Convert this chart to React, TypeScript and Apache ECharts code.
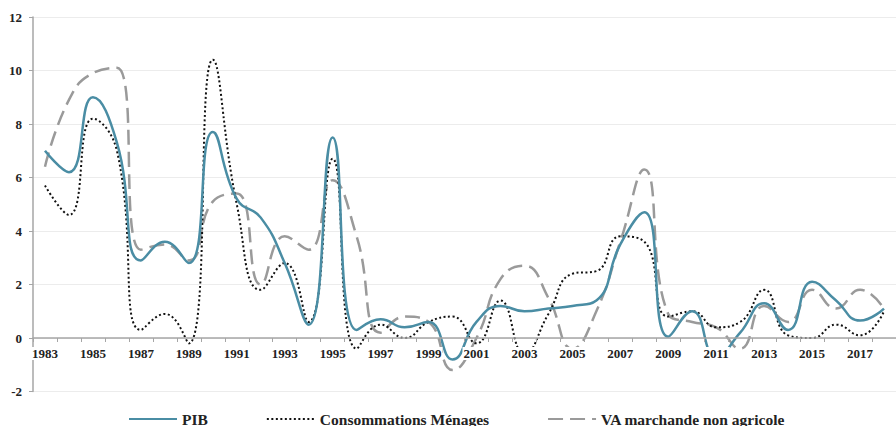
import React, { useEffect, useRef } from "react";
import * as echarts from "echarts";

const years = ["1983","1984","1985","1986","1987","1988","1989","1990","1991","1992","1993","1994","1995","1996","1997","1998","1999","2000","2001","2002","2003","2004","2005","2006","2007","2008","2009","2010","2011","2012","2013","2014","2015","2016","2017","2018"];

const pib = [7.0, 6.2, 9.0, 7.3, 2.9, 3.6, 2.8, 7.7, 5.2, 4.5, 2.8, 0.5, 7.5, 0.3, 0.7, 0.4, 0.6, -0.8, 0.6, 1.2, 1.0, 1.1, 1.2, 1.4, 3.5, 4.7, 0.05, 1.0, -0.7, 0.2, 1.3, 0.3, 2.1, 1.4, 0.65, 1.1];
const conso = [5.7, 4.6, 8.2, 7.0, 0.3, 0.9, -0.2, 10.4, 5.0, 1.8, 2.8, 0.6, 6.7, -0.4, 0.5, 0.0, 0.6, 0.8, -0.2, 1.4, -0.6, 0.9, 2.4, 2.5, 3.8, 3.6, 0.8, 1.0, 0.4, 0.6, 1.8, 0.1, 0.0, 0.5, 0.1, 1.0];
const va = [6.4, 8.9, 9.9, 10.1, 3.3, 3.5, 2.9, 5.1, 5.4, 2.0, 3.8, 3.3, 5.9, 3.8, 0.2, 0.8, 0.6, -1.2, 0.0, 2.2, 2.7, 1.5, -0.4, 1.0, 3.6, 6.3, 0.9, 0.6, 0.4, -0.4, 1.2, 0.6, 1.8, 1.1, 1.8, 1.1];

const names = ["PIB", "Consommations Ménages", "VA marchande non agricole"];

const FONT = "Liberation Serif";
const Y_MIN = -2;
const Y_MAX = 12;
const GRID_H = 374.5;

export default function App() {
  const ref = useRef<HTMLDivElement>(null);
  useEffect(() => {
    if (!ref.current) return;
    const chart = echarts.init(ref.current, null, { renderer: "svg" });
    // move the category axis up to the zero line (labels follow it)
    const zeroOffset = -((0 - Y_MIN) / (Y_MAX - Y_MIN)) * GRID_H;
    chart.setOption({
      animation: false,
      backgroundColor: "#ffffff",
      grid: { left: 33, top: 17, width: 868, height: GRID_H, containLabel: false },
      legend: {
        left: 128,
        top: 411,
        padding: 0,
        itemWidth: 48,
        itemHeight: 14,
        itemGap: 58,
        itemStyle: { opacity: 0 },
        textStyle: { fontFamily: FONT, fontWeight: "bold", fontSize: 15.5, color: "#222" },
        data: names,
      },
      xAxis: {
        type: "category",
        data: years,
        boundaryGap: true,
        position: "bottom",
        offset: zeroOffset,
        z: 5,
        axisLine: { onZero: false, lineStyle: { color: "#a6a6a6", width: 1.5 } },
        axisTick: { show: true, length: 4, interval: 0, lineStyle: { color: "#a6a6a6" } },
        axisLabel: {
          interval: 1,
          margin: 9,
          fontFamily: FONT,
          fontWeight: "bold",
          fontSize: 13,
          color: "#222",
          backgroundColor: "#ffffff",
          padding: [0, 1],
        },
        splitLine: { show: false },
      },
      yAxis: {
        type: "value",
        min: Y_MIN,
        max: Y_MAX,
        interval: 2,
        axisLine: { show: true, lineStyle: { color: "#a6a6a6", width: 1.5 } },
        axisTick: { show: true, length: 4, lineStyle: { color: "#a6a6a6" } },
        axisLabel: { margin: 11, fontFamily: FONT, fontWeight: "bold", fontSize: 13, color: "#222" },
        splitLine: { show: true, lineStyle: { color: "#ececec", width: 1 } },
      },
      series: [
        {
          name: names[0],
          type: "line",
          data: pib,
          smooth: 0.5,
          symbol: "none",
          z: 4,
          lineStyle: { color: "#4a8da4", width: 2.5, type: "solid" },
          itemStyle: { color: "#4a8da4" },
        },
        {
          name: names[1],
          type: "line",
          data: conso,
          smooth: 0.5,
          symbol: "none",
          z: 3,
          lineStyle: { color: "#111111", width: 2, type: [2, 2.5] },
          itemStyle: { color: "#111111" },
        },
        {
          name: names[2],
          type: "line",
          data: va,
          smooth: 0.5,
          symbol: "none",
          z: 2,
          lineStyle: { color: "#9a9a9a", width: 2.5, type: [15, 7] },
          itemStyle: { color: "#9a9a9a" },
        },
      ],
    });
    return () => chart.dispose();
  }, []);
  return (
    <div
      ref={ref}
      style={{ position: "fixed", left: 0, top: 0, width: 896, height: 426, background: "#fff" }}
    />
  );
}
